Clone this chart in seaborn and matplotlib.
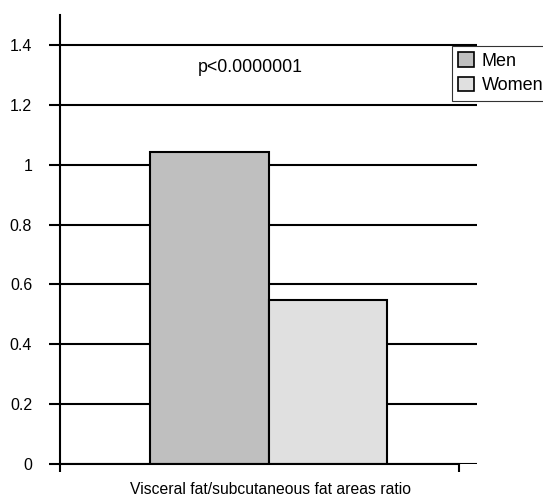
import seaborn as sns
import matplotlib.pyplot as plt
import matplotlib.ticker as mticker
import pandas as pd

# values
groups = ['Men', 'Women']
ratios = [1.043, 0.547]
category = ['Visceral fat/subcutaneous fat areas ratio'] * 2
bar_colours = ['#bfbfbf', '#e0e0e0']
y_ticks = [0, 0.2, 0.4, 0.6, 0.8, 1, 1.2, 1.4]
p_text = 'p<0.0000001'

sns.set_theme(style='white')
plt.rcParams['font.family'] = ['Liberation Sans', 'DejaVu Sans']
plt.rcParams['text.color'] = 'black'
plt.rcParams['axes.labelcolor'] = 'black'
plt.rcParams['ytick.labelcolor'] = 'black'

df = pd.DataFrame({'cat': category, 'sex': groups, 'ratio': ratios})

fig = plt.figure(figsize=(5.43, 4.96), dpi=100)
ax = fig.add_axes([60 / 543, 1 - 464 / 496, 417 / 543, 449 / 496])

sns.barplot(data=df, x='cat', y='ratio', hue='sex', palette=bar_colours,
            width=0.57, edgecolor='black', linewidth=1.5, ax=ax, legend=False)

ax.set_xlim(-0.5, 0.5)
ax.set_ylim(0, 1.5)
ax.set_yticks(y_ticks)
ax.yaxis.set_major_formatter(mticker.FuncFormatter(lambda v, p: f'{v:g}'))
ax.set_axisbelow(True)
ax.yaxis.grid(True, color='black', linewidth=1.5)
ax.xaxis.grid(False)

for side in ['top', 'right']:
    ax.spines[side].set_visible(False)
for side in ['left', 'bottom']:
    ax.spines[side].set_color('black')
    ax.spines[side].set_linewidth(1.5)
ax.spines['bottom'].set_bounds(-0.5, 0.457)

ax.set_xticks([-0.5, 0.457])
ax.set_xticklabels([])
ax.tick_params(axis='x', direction='out', length=6, width=1.5, color='black', bottom=True)
ax.tick_params(axis='y', direction='out', length=8, width=1.5, color='black', left=True,
               labelsize=11.5, pad=12)
ax.set_xlabel('')
ax.set_ylabel('')

# x label placed in figure coords so it stays inside the canvas
fig.text(270 / 543, 1 - 489 / 496, category[0], ha='center', va='center', fontsize=11.3)

ax.text(-0.044, 1.323, p_text, ha='center', va='center', fontsize=12.8)

# legend, partly cut off by the right edge as in the reference
handles = [plt.Rectangle((0, 0), 1, 1, facecolor=c, edgecolor='black', linewidth=1.2)
           for c in bar_colours]
leg = fig.legend(handles, groups, loc='upper left', bbox_to_anchor=(452 / 543, 1 - 46 / 496),
                 fontsize=13, frameon=True, fancybox=False, handlelength=0.85,
                 handleheight=0.85, handletextpad=0.45, borderpad=0.35, labelspacing=0.4,
                 borderaxespad=0)
leg.get_frame().set_edgecolor('black')
leg.get_frame().set_linewidth(0.8)

plt.savefig('out.png', dpi=100)
plt.close()
